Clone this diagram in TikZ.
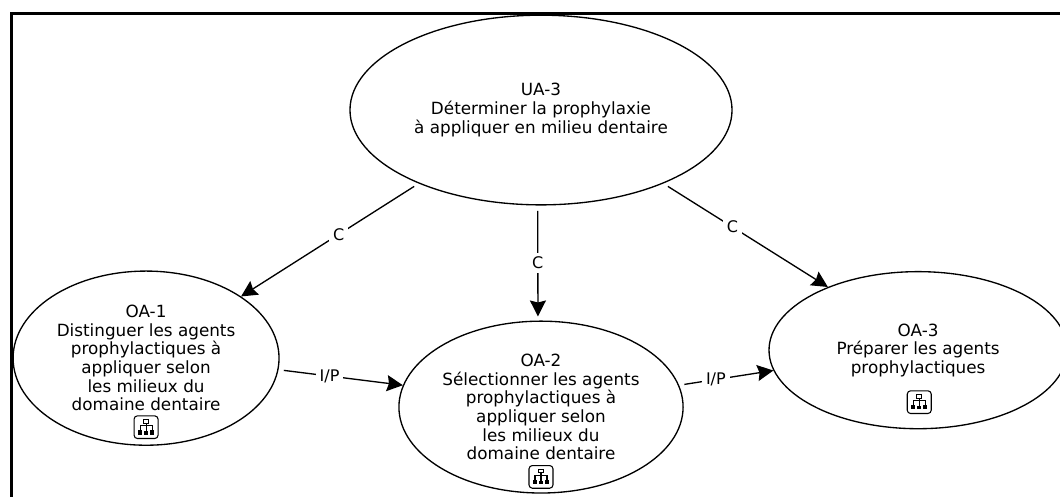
\documentclass[tikz,border=0pt]{standalone}
\usepackage{fontspec}
\setmainfont{DejaVu Sans}
\usetikzlibrary{shapes.geometric, arrows.meta}
\tikzstyle{goal} = [ellipse, draw=black, line width=1pt, inner sep=0pt, align=center, font=\fontsize{12.6}{13.95}\selectfont]
\tikzstyle{link} = [-{Stealth[length=12pt, width=12pt, inset=1.5pt]}, line width=1pt, shorten <=4pt]
\tikzstyle{tag} = [fill=white, inner sep=3pt, font=\fontsize{12}{12}\selectfont]
\tikzstyle{iconbox} = [rectangle, rounded corners=2.5pt, draw=black, line width=0.8pt, minimum width=18pt, minimum height=17pt, inner sep=0pt]
\tikzset{orgtree/.pic={
  \draw [line width=0.8pt] (-2pt, 3pt) rectangle (2pt, 5.5pt);
  \draw [line width=0.8pt] (0pt, 3pt) -- (0pt, 1pt);
  \draw [line width=0.8pt] (-4.5pt, -2pt) |- (4.5pt, 1pt) -- (4.5pt, -2pt);
  \draw [line width=0.8pt] (0pt, 1pt) -- (0pt, -3pt);
  \fill (-6pt, -5.5pt) rectangle (-3pt, -2pt);
  \fill (-1.5pt, -5.5pt) rectangle (1.5pt, -3pt);
  \fill (3pt, -5.5pt) rectangle (6pt, -2pt);
}}

\begin{document}
\begin{tikzpicture}[node distance=7.83cm]
      \useasboundingbox (0, 0) rectangle (27.94, -13.10);
      \draw [line width=2.25pt] (0.3, -13.10) -- (0.3, -0.356) -- (27.94, -0.356);

      \node (ua3) [goal, minimum width=10.07cm, minimum height=5cm] at (14.26, -2.90) {UA-3\\Déterminer la prophylaxie\\à appliquer en milieu dentaire};
      \node (oa2) [goal, below of=ua3, minimum width=7.49cm, minimum height=4.53cm] {OA-2\\Sélectionner les agents\\prophylactiques à\\appliquer selon\\les milieux du\\domaine dentaire};
      \node (oa1) [goal, below of=ua3, xshift=-10.41cm, yshift=1.29cm, minimum width=7.01cm, minimum height=4.59cm] {OA-1\\Distinguer les agents\\prophylactiques à\\appliquer selon\\les milieux du\\domaine dentaire};
      \node (oa3) [goal, below of=ua3, xshift=9.94cm, yshift=1.5cm, minimum width=7.86cm, minimum height=4.14cm] {OA-3\\Préparer les agents\\prophylactiques};

      \node (oa1icon) [iconbox, below of=oa1, node distance=1.82cm] {};
      \node (oa2icon) [iconbox, below of=oa2, node distance=1.84cm] {};
      \node (oa3icon) [iconbox, below of=oa3, xshift=0.03cm, node distance=1.37cm] {};
      \foreach \n in {oa1icon, oa2icon, oa3icon}
        \pic at (\n) {orgtree};

      \draw [link] (ua3.211.6) -- node [tag, pos=0.45] {C} (oa1.33);
      \draw [link, shorten >=3pt] (ua3.-92) -- node [tag, pos=0.5] {C} (oa2.92);
      \draw [link] (ua3.-31.9) -- node [tag, pos=0.42] {C} (oa3.145.7);
      \draw [link] (oa1.-5.4) -- node [tag, pos=0.41] {I/P} (oa2.171.3);
      \draw [link] (oa2.9.1) -- node [tag, pos=0.39] {I/P} (oa3.188.1);
    \end{tikzpicture}
\end{document}
